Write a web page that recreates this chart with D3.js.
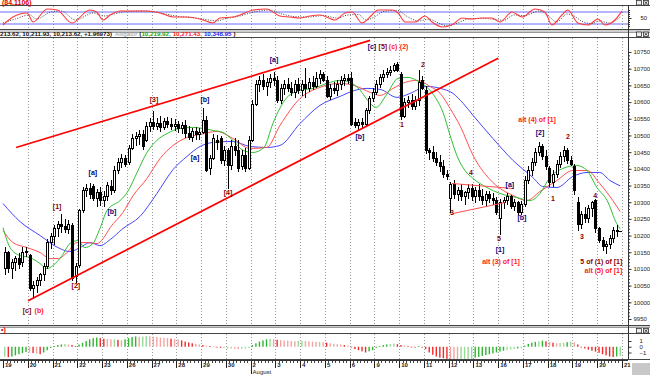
<!DOCTYPE html>
<html lang="en">
<head>
<meta charset="utf-8">
<title>Dow hourly with Alligator</title>
<script src="https://d3js.org/d3.v7.min.js"></script>
<style>
  body { margin: 0; background: #fff; }
  svg { display: block; font-family: "Liberation Sans", Arial, sans-serif; }
  .lbl { font-size: 7px; font-weight: bold; }
  .axis-txt { font-size: 6px; fill: #222; }
</style>
</head>
<body>
<script>
// ---------------- data ----------------
const dayLabels = ["19","20","21","22","23","26","27","28","29","30","2","3","4","5","6","9","10","11","12","13","16","17","18","19","20","21"];
const monthLabels = [[10, "August"]];
const barsPerDay = 7;
const priceTicks = [10750,10700,10650,10600,10550,10500,10450,10400,10350,10300,10250,10200,10150,10100,10050,10000,9950];
const oscTicks = [50];
const histTicks = [1, 0, -1];

// hourly bars: open, high, low, close
const ohlc = [
  [10101,10167,10083,10149],[10149,10155,10089,10101],[10101,10131,10071,10119],[10119,10140,10095,10131],[10131,10149,10101,10113],[10119,10167,10107,10149],[10149,10167,10137,10152],
  [10140,10146,10035,10041],[10041,10065,10011,10050],[10050,10077,10029,10065],[10065,10089,10050,10083],[10083,10119,10065,10107],[10107,10191,10101,10179],[10179,10209,10161,10197],
  [10197,10233,10173,10221],[10221,10245,10197,10233],[10233,10266,10209,10227],[10227,10251,10209,10218],[10218,10248,10206,10233],[10230,10239,10065,10071],[10077,10119,10059,10107],
  [10110,10281,10104,10275],[10275,10347,10269,10335],[10335,10353,10317,10341],[10341,10356,10311,10323],[10347,10353,10305,10311],[10311,10341,10287,10329],[10329,10347,10290,10305],
  [10305,10335,10287,10317],[10317,10359,10305,10350],[10347,10365,10323,10335],[10335,10407,10329,10395],[10395,10431,10383,10419],[10419,10443,10401,10431],[10431,10440,10404,10413],
  [10419,10470,10410,10461],[10461,10503,10455,10491],[10491,10509,10467,10497],[10497,10515,10470,10503],[10503,10515,10455,10467],[10485,10539,10479,10527],[10527,10551,10509,10539],
  [10539,10572,10515,10527],[10527,10551,10515,10536],[10536,10557,10509,10524],[10524,10551,10515,10542],[10542,10554,10521,10533],[10533,10551,10515,10527],[10527,10548,10512,10533],
  [10533,10542,10506,10521],[10521,10539,10503,10530],[10530,10545,10491,10506],[10506,10527,10485,10494],[10494,10521,10479,10512],[10512,10524,10485,10503],[10503,10521,10485,10509],
  [10509,10581,10503,10545],[10545,10557,10389,10395],[10401,10440,10380,10431],[10431,10503,10425,10491],[10485,10500,10455,10479],[10491,10497,10413,10425],[10425,10467,10407,10455],
  [10455,10461,10341,10410],[10410,10485,10395,10467],[10467,10491,10437,10455],[10455,10485,10389,10401],[10407,10455,10395,10440],[10440,10461,10389,10401],[10401,10497,10395,10485],
  [10485,10605,10479,10593],[10593,10665,10587,10653],[10653,10677,10629,10665],[10665,10683,10635,10647],[10647,10671,10617,10659],[10659,10683,10641,10671],[10671,10689,10647,10665],
  [10665,10677,10596,10605],[10605,10653,10593,10641],[10641,10665,10620,10653],[10653,10671,10629,10641],[10641,10659,10617,10629],[10629,10665,10611,10653],[10653,10671,10623,10635],
  [10635,10665,10617,10653],[10653,10701,10611,10641],[10641,10671,10629,10659],[10659,10677,10635,10647],[10647,10689,10641,10671],[10671,10695,10653,10683],[10683,10689,10659,10665],
  [10665,10677,10611,10617],[10617,10653,10605,10641],[10641,10659,10623,10635],[10635,10665,10617,10653],[10653,10677,10635,10665],[10665,10683,10647,10671],[10671,10683,10653,10665],
  [10671,10689,10527,10533],[10539,10551,10521,10530],[10530,10548,10515,10539],[10539,10551,10521,10533],[10533,10581,10527,10575],[10575,10617,10563,10611],[10611,10641,10599,10629],
  [10629,10665,10620,10653],[10653,10683,10641,10674],[10674,10695,10659,10683],[10683,10701,10671,10689],[10689,10707,10677,10695],[10695,10716,10689,10710],[10713,10719,10689,10695],
  [10683,10689,10545,10557],[10557,10611,10551,10599],[10599,10617,10581,10605],[10605,10623,10575,10587],[10587,10617,10575,10605],[10605,10695,10587,10659],[10665,10677,10635,10641],
  [10635,10647,10443,10455],[10455,10461,10425,10449],[10449,10467,10419,10431],[10431,10449,10407,10419],[10419,10440,10389,10407],[10407,10425,10371,10383],[10383,10395,10365,10377],
  [10311,10359,10269,10353],[10353,10365,10311,10323],[10323,10347,10305,10335],[10335,10353,10305,10317],[10317,10335,10293,10329],[10329,10353,10311,10341],[10341,10353,10305,10317],
  [10317,10347,10299,10335],[10335,10353,10305,10317],[10317,10341,10293,10305],[10305,10335,10287,10323],[10323,10335,10299,10311],[10311,10329,10293,10305],[10305,10317,10263,10269],
  [10251,10311,10203,10299],[10299,10317,10281,10305],[10305,10329,10293,10317],[10317,10323,10281,10287],[10287,10311,10275,10299],[10299,10305,10263,10269],[10269,10305,10263,10293],
  [10293,10377,10287,10365],[10365,10407,10353,10395],[10395,10431,10377,10419],[10419,10461,10407,10449],[10449,10479,10437,10467],[10467,10473,10425,10437],[10437,10455,10395,10407],
  [10401,10407,10347,10359],[10359,10395,10347,10383],[10383,10425,10371,10413],[10413,10449,10401,10437],[10437,10467,10419,10455],[10455,10461,10413,10425],[10425,10437,10407,10413],
  [10407,10413,10323,10335],[10299,10317,10215,10233],[10233,10275,10221,10263],[10263,10287,10239,10251],[10251,10293,10239,10281],[10281,10305,10257,10299],[10305,10311,10209,10221],
  [10221,10227,10179,10185],[10185,10197,10155,10167],[10167,10185,10146,10173],[10173,10203,10161,10191],[10191,10227,10179,10215],[10215,10233,10197,10211.65027],[10211.93,10213.62,10211.93,10213.62]
];

// Alligator lines, read as [bar, value]
const lips = [[-0.5,10224],[1.5,10164],[4.3,10140],[7.1,10134],[10,10116],[11.9,10101],[13.6,10110],[16.2,10140],[18.4,10176],[20.7,10185],[22.6,10164],[24.9,10176],[26.9,10221],[28.9,10275],[32.6,10305],[34.6,10329],[37.4,10389],[40.2,10449],[43,10485],[45.9,10506],[49.5,10521],[53.2,10524],[56,10521],[58.9,10515],[61.7,10509],[64.5,10485],[67.4,10455],[70.2,10449],[73.3,10464],[75.8,10536],[79.8,10614],[83.5,10635],[87.2,10641],[91.1,10656],[94.8,10665],[97.7,10659],[100.5,10635],[103.3,10596],[105,10584],[107.8,10620],[111.2,10671],[114,10674],[116.9,10662],[119.7,10641],[121.9,10611],[123.9,10569],[125.9,10500],[127.8,10440],[130.1,10395],[132.4,10371],[136.3,10344],[140,10326],[144.8,10314],[148.5,10305],[151.3,10326],[154.1,10374],[157.8,10401],[161.7,10410],[164.6,10395],[167.4,10344],[170.3,10305],[173,10236],[174,10219.92]];
const teeth = [[-0.5,10215],[2.3,10179],[6.3,10164],[10,10149],[12.8,10131],[15.1,10131],[17.6,10149],[20.4,10179],[23.2,10179],[26.1,10176],[27.8,10191],[29.8,10224],[33.4,10269],[36.3,10320],[40.2,10371],[43.9,10431],[47.6,10470],[51.5,10494],[55.2,10503],[60,10512],[64.5,10491],[69.3,10461],[74.1,10464],[77.8,10530],[83.5,10611],[89.1,10644],[94.8,10656],[99.5,10647],[103.3,10629],[106.1,10620],[109.8,10641],[113.2,10659],[116.6,10665],[120.2,10647],[123.1,10626],[125.9,10581],[128.8,10527],[132.4,10440],[138,10359],[143.7,10320],[147.6,10305],[151.3,10332],[156.1,10365],[160.6,10395],[164.6,10395],[168.2,10356],[171.9,10305],[174,10271.43]];
const jaw = [[-0.5,10296],[4.3,10242],[10,10200],[15.6,10161],[18.4,10152],[21.3,10164],[24.1,10179],[26.9,10170],[29.8,10188],[33.4,10221],[38.2,10257],[43,10326],[47.6,10398],[51.5,10437],[55.2,10467],[58.9,10479],[64.5,10482],[69.3,10467],[74.1,10464],[77.8,10470],[83.5,10536],[89.1,10590],[94.8,10617],[99,10635],[102.4,10641],[106.1,10638],[110.9,10614],[114.6,10626],[119.4,10647],[123.1,10641],[126.7,10626],[129.6,10596],[132.4,10560],[138,10491],[143.7,10425],[149.3,10374],[152.1,10347],[156.1,10344],[160.6,10377],[164.6,10389],[168.2,10389],[171.1,10365],[174,10348.95]];

// top oscillator (0-100) and its dotted signal line
const oscLine = [[-0.5,15],[2.3,55],[6.3,75],[8,30],[12,95],[14.8,90],[19,25],[24,90],[26,80],[27.8,40],[29.8,65],[32.6,85],[36.3,85],[40.2,85],[43.9,75],[47.6,55],[51.5,55],[55.2,45],[58.9,25],[60.8,50],[64.5,55],[66.5,65],[70.2,90],[74.1,95],[75.8,80],[77.8,60],[80.6,55],[83.5,50],[86.3,60],[89.1,65],[93.4,40],[96.2,75],[98.2,80],[101,25],[103.8,65],[105.5,90],[109.5,90],[111.2,75],[113.2,30],[116,30],[118.8,60],[120.8,30],[123.6,5],[126.4,15],[129.3,50],[132,45],[134.9,50],[137.7,50],[140,30],[143.4,80],[146.3,55],[149.9,95],[152.7,80],[154.7,15],[157.5,65],[159.2,90],[162,25],[164.9,15],[167.7,45],[169.7,15],[172.5,40],[174.5,84.1106]];
const oscSignal = [[-0.5,25],[3,45],[7,65],[9,45],[13,80],[16,85],[20,40],[25,75],[28,60],[31,70],[34,82],[40,85],[45,72],[49,58],[53,52],[57,42],[60,35],[62,45],[66,58],[71,82],[75,90],[78,72],[82,57],[86,55],[90,62],[94,50],[97,65],[100,68],[102,40],[105,60],[107,82],[111,88],[114,55],[117,35],[120,45],[122,30],[125,12],[128,25],[131,45],[135,48],[139,42],[141,38],[144,65],[147,62],[151,85],[154,55],[156,30],[159,70],[161,60],[163,35],[166,22],[168,35],[171,25],[174,55]];

// lower histogram, one value per bar
const histo = [
  -1.7,-1.8,-1.7,-1.5,-1.3,-1.1,-0.9,
  -1.0,-1.1,-1.2,-1.3,-1.0,-0.6,-0.2,
  0.1,0.3,0.4,0.5,0.4,0.3,0.1,
  0.4,0.7,1.0,1.3,1.5,1.6,1.5,
  1.4,1.35,1.3,1.3,1.2,1.15,1.3,
  1.5,1.7,1.8,1.75,1.8,1.85,1.8,
  1.75,1.7,1.6,1.55,1.5,1.4,1.35,
  1.3,1.1,0.9,0.75,0.6,0.5,0.4,
  0.3,0.2,0.1,0.05,-0.1,-0.2,-0.2,
  -0.3,-0.3,-0.35,-0.4,-0.35,-0.3,-0.2,
  0.3,0.6,0.9,1.1,1.3,1.4,1.35,
  1.2,1.15,1.1,1.05,1.0,0.95,1.0,
  1.05,1.0,0.95,0.9,0.85,0.85,0.8,
  0.7,0.6,0.5,0.45,0.4,0.3,0.2,
  -0.1,-0.4,-0.6,-0.8,-1.0,-0.8,-0.6,
  -0.2,0.1,0.3,0.4,0.5,0.55,0.45,
  0.3,0.2,0.1,0.0,-0.1,0.1,0.0,
  -0.4,-1.0,-1.4,-1.7,-1.9,-2.0,-2.1,
  -2.15,-2.2,-2.25,-2.25,-2.2,-2.15,-2.1,
  -1.9,-1.75,-1.6,-1.45,-1.3,-1.15,-1.0,
  -0.85,-0.7,-0.6,-0.5,-0.4,-0.3,-0.25,
  0.2,0.5,0.7,0.85,0.95,1.05,0.95,
  0.85,0.7,0.6,0.65,0.7,0.8,0.9,
  0.8,0.4,0.0,-0.3,-0.5,-0.7,-0.85,
  -1.05,-1.3,-1.5,-1.7,-1.8,-1.7,-1.6
];

// drawn trend lines [bar, price]
const channelTop = [[3.2,10464],[103.3,10785]];
const channelBottom = [[6.6,10005],[139.5,10731]];
const triangleTop = [[126.4,10356],[143.7,10341]];
const triangleBottom = [[126.7,10266],[141.4,10299]];

// wave labels [bar, price, text, kind]
const waveLabels = [
  [6.3,9975,"[c]","wave"],[9.7,9975,"(b)","alt"],
  [14.8,10284,"[1]","wave"],[20.1,10047,"[2]","wave"],
  [24.9,10386,"[a]","sub"],[30.3,10269,"[b]","sub"],
  [42.2,10605,"[3]","wave"],[53.8,10431,"[a]","sub"],[56.6,10605,"[b]","sub"],[63.1,10326,"[4]","wave"],
  [76.1,10725,"[a]","sub"],[100.4,10494,"[b]","sub"],
  [103.8,10764,"[c]","sub"],[106.9,10764,"[5]","wave"],[109.8,10764,"(c)","alt"],[112.9,10764,"(2)","alt"],
  [112.3,10530,"1","wave"],[118.2,10710,"2","wave"],[126.4,10266,"3","wave"],[131.8,10386,"4","wave"],[139.7,10188,"5","wave"],
  [140,10155,"[1]","sub"],[140.3,10119,"alt (3) of [1]","alt"],
  [142.8,10350,"[a]","sub"],[146.2,10251,"[b]","sub"],
  [150.5,10545,"alt (4) of [1]","alt"],[151.3,10506,"[2]","sub"],
  [155,10308,"1","wave"],[159.2,10494,"2","wave"],[163.2,10194,"3","wave"],[166.9,10317,"4","wave"]
];
const endLabels = [[174.6,10119,"5 of (1) of [1]","wave"],[174.6,10092,"alt (5) of [1]","alt"]];

// ---------------- layout ----------------
const W = 650, H = 375;
const axisX = 628;
const oscP = {top: 5, bottom: 29};
const mainP = {top: 37, bottom: 325};
const histP = {top: 333, bottom: 359};
const labelColor = {wave: "#8b0000", sub: "#00007a", alt: "#ff1a1a"};

const x = d3.scaleLinear().domain([0, ohlc.length]).range([3, 622]);
const xc = i => x(i + 0.5);
const y = d3.scaleLinear().domain([9950, 10750]).range([319, 52]);
const yOsc = d3.scaleLinear().domain([0, 100]).range([28, 8]);
const yHist = d3.scaleLinear().domain([-1, 1]).range([352.5, 341]);

const svg = d3.select("body").append("svg").attr("width", W).attr("height", H);

const defs = svg.append("defs");
function clip(id, p) {
  defs.append("clipPath").attr("id", id).append("rect")
    .attr("x", 0).attr("y", p.top).attr("width", axisX).attr("height", p.bottom - p.top);
}
clip("cOsc", oscP); clip("cMain", mainP); clip("cHist", histP);

// panel chrome
svg.append("rect").attr("x", 0).attr("y", 30).attr("width", W).attr("height", 2.5).attr("fill", "#cfcfcf");
svg.append("rect").attr("x", 0).attr("y", 326).attr("width", W).attr("height", 1.5).attr("fill", "#cfcfcf");
[5.5, 29.5, 32.5, 37.5, 325.5, 327.5, 333.5, 359.5].forEach(v => {
  svg.append("line").attr("x1", 0).attr("x2", W).attr("y1", v).attr("y2", v)
    .attr("stroke", v === 32.5 || v === 327.5 ? "#999" : "#444").attr("stroke-width", 1);
});
svg.append("rect").attr("x", 632).attr("y", 363).attr("width", 18).attr("height", 12).attr("fill", "#c8c8c8");

// little window buttons
[[636, 0], [636, 31.5], [636, 328]].forEach(([bx, by]) => {
  [0, 7].forEach(o => {
    svg.append("rect").attr("x", bx + o + 0.5).attr("y", by + 0.5).attr("width", 5).attr("height", 4.5)
      .attr("fill", "#eee").attr("stroke", "#333").attr("stroke-width", 0.8);
  });
  svg.append("path").attr("d", `M${bx + 8.5},${by + 1.5}L${bx + 11.5},${by + 4}M${bx + 11.5},${by + 1.5}L${bx + 8.5},${by + 4}`)
    .attr("stroke", "#222").attr("stroke-width", 0.8);
});

// vertical day grid
const dayIdx = d3.range(0, dayLabels.length);
[oscP, mainP, histP].forEach(p => {
  svg.append("g").selectAll("line").data(dayIdx.slice(1)).join("line")
    .attr("x1", d => Math.round(x(d * barsPerDay)) + 0.5).attr("x2", d => Math.round(x(d * barsPerDay)) + 0.5)
    .attr("y1", p.top + 1).attr("y2", p.bottom)
    .attr("stroke", "#9a9a9a").attr("stroke-dasharray", "1,2");
});

// ---------- oscillator panel ----------
const gOsc = svg.append("g").attr("clip-path", "url(#cOsc)");
[80, 20].forEach(v => {
  gOsc.append("line").attr("x1", 0).attr("x2", axisX).attr("y1", yOsc(v)).attr("y2", yOsc(v))
    .attr("stroke", "#6a6aff").attr("stroke-width", 1);
});
const oscPath = d3.line().x(d => xc(d[0])).y(d => yOsc(d[1])).curve(d3.curveMonotoneX);
gOsc.append("path").attr("d", oscPath(oscSignal)).attr("fill", "none")
  .attr("stroke", "#444").attr("stroke-width", 1).attr("stroke-dasharray", "1,1.5");
gOsc.append("path").attr("d", oscPath(oscLine)).attr("fill", "none")
  .attr("stroke", "#ff3b3b").attr("stroke-width", 1.1);
svg.append("text").attr("class", "lbl").attr("x", 2).attr("y", 4.5).attr("fill", "#e00000")
  .text(`(${oscLine[oscLine.length - 1][1]})`);

// ---------- main price panel ----------
const gMain = svg.append("g").attr("clip-path", "url(#cMain)");

// alligator
const aLine = d3.line().x(d => xc(d[0])).y(d => y(d[1])).curve(d3.curveMonotoneX);
[[jaw, "#4646ff"], [teeth, "#ff5050"], [lips, "#30c030"]].forEach(([s, c]) => {
  gMain.append("path").attr("d", aLine(s)).attr("fill", "none").attr("stroke", c).attr("stroke-width", 1);
});

// candles
const candles = gMain.append("g").attr("shape-rendering", "crispEdges");
const bars = candles.selectAll("g").data(ohlc).join("g");
bars.append("line")
  .attr("x1", (d, i) => Math.round(xc(i)) + 0.5).attr("x2", (d, i) => Math.round(xc(i)) + 0.5)
  .attr("y1", d => y(d[1])).attr("y2", d => y(d[2]))
  .attr("stroke", "#000").attr("stroke-width", 1);
bars.append("rect")
  .attr("x", (d, i) => Math.round(xc(i)) - 0.5)
  .attr("width", 2)
  .attr("y", d => y(Math.max(d[0], d[3])))
  .attr("height", d => Math.max(0.6, Math.abs(y(d[0]) - y(d[3]))))
  .attr("fill", d => d[3] >= d[0] ? "#fff" : "#000")
  .attr("stroke", "#000").attr("stroke-width", 1);

// trend lines
const tLine = d3.line().x(d => xc(d[0])).y(d => y(d[1]));
[channelTop, channelBottom].forEach(s => {
  gMain.append("path").attr("d", tLine(s)).attr("stroke", "#ff0000").attr("stroke-width", 1.7).attr("fill", "none");
});
[triangleTop, triangleBottom].forEach(s => {
  gMain.append("path").attr("d", tLine(s)).attr("stroke", "#ff4d4d").attr("stroke-width", 1).attr("fill", "none");
});

// wave labels
gMain.append("g").selectAll("text").data(waveLabels).join("text")
  .attr("class", "lbl").attr("text-anchor", "middle").attr("dominant-baseline", "middle")
  .attr("x", d => xc(d[0])).attr("y", d => y(d[1]))
  .attr("fill", d => labelColor[d[3]]).text(d => d[2]);
gMain.append("g").selectAll("text").data(endLabels).join("text")
  .attr("class", "lbl").attr("text-anchor", "end").attr("dominant-baseline", "middle")
  .attr("x", d => xc(d[0])).attr("y", d => y(d[1]))
  .attr("fill", d => labelColor[d[3]]).text(d => d[2]);

// header line of the price panel
const fmt = d3.format(",.2f");
const last = ohlc[ohlc.length - 1];
const change = last[3] - ohlc[ohlc.length - 2][3];
const head = svg.append("text").attr("y", 35.8).attr("font-size", 6.2).attr("font-weight", "bold");
head.append("tspan").attr("x", 0).attr("fill", "#111")
  .text(`${fmt(last[1]).slice(3)}, ${fmt(last[2])}, ${fmt(last[3])}, +${change.toFixed(5)})`);
head.append("tspan").attr("dx", 3).attr("fill", "#999").attr("font-weight", "normal").text("Alligator");
head.append("tspan").attr("dx", 2).attr("fill", "#111").text("(");
head.append("tspan").attr("fill", "#1aa51a").text(fmt(lips[lips.length - 1][1]) + ",");
head.append("tspan").attr("dx", 2).attr("fill", "#ff2020").text(fmt(teeth[teeth.length - 1][1]) + ",");
head.append("tspan").attr("dx", 2).attr("fill", "#2020ff").text(fmt(jaw[jaw.length - 1][1]));
head.append("tspan").attr("dx", 2).attr("fill", "#111").text(")");

// ---------- histogram panel ----------
const gHist = svg.append("g").attr("clip-path", "url(#cHist)");
gHist.selectAll("rect").data(histo).join("rect")
  .attr("x", (d, i) => xc(i) - 0.7)
  .attr("width", 1.4)
  .attr("y", d => Math.min(yHist(0), yHist(d)))
  .attr("height", d => Math.max(0.8, Math.abs(yHist(d) - yHist(0))))
  .attr("fill", (d, i) => {
    const prev = i > 0 ? histo[i - 1] : d;
    const up = d >= prev;
    const strong = Math.abs(d - prev) >= 0.1;
    if (up) return strong ? "#2fb52f" : "#9ad99a";
    return strong ? "#f02a2a" : "#f5a3a3";
  });
svg.append("text").attr("class", "lbl").attr("x", 1).attr("y", 332).attr("fill", "#e00000").text("•)");

// ---------- right axes ----------
svg.append("line").attr("x1", axisX + 0.5).attr("x2", axisX + 0.5).attr("y1", 5).attr("y2", 360)
  .attr("stroke", "#333").attr("shape-rendering", "crispEdges");

const priceAxis = d3.axisRight(y).tickValues(priceTicks).tickSize(3).tickPadding(2).tickFormat(d3.format("d"));
const gpa = svg.append("g").attr("transform", `translate(${axisX + 0.5},0)`).call(priceAxis);
svg.append("g").attr("transform", `translate(${axisX + 0.5},0)`)
  .call(d3.axisRight(y).ticks(80).tickSize(1.5).tickFormat(""));

const oscAxis = d3.axisRight(yOsc).tickValues(oscTicks).tickSize(3).tickPadding(9);
const goa = svg.append("g").attr("transform", `translate(${axisX + 0.5},0)`).call(oscAxis);
svg.append("g").attr("transform", `translate(${axisX + 0.5},0)`)
  .call(d3.axisRight(yOsc).tickValues([10, 20, 30, 40, 60, 70, 80, 90]).tickSize(1.5).tickFormat(""));

const histAxis = d3.axisRight(yHist).tickValues(histTicks).tickSize(3).tickPadding(8).tickFormat(d3.format("d"));
const gha = svg.append("g").attr("transform", `translate(${axisX + 0.5},0)`).call(histAxis);

svg.selectAll(".domain").remove();
[gpa, goa, gha].forEach(g => {
  g.selectAll("text").attr("class", "axis-txt").attr("font-family", null).attr("font-size", null);
});
svg.selectAll(".tick line").attr("stroke", "#333");

// ---------- bottom time axis ----------
const gx = svg.append("g").attr("shape-rendering", "crispEdges");
gx.append("line").attr("x1", 0).attr("x2", axisX).attr("y1", 360.5).attr("y2", 360.5).attr("stroke", "#333");
gx.selectAll(".minor").data(d3.range(ohlc.length)).join("line").attr("class", "minor")
  .attr("x1", d => Math.round(x(d)) + 0.5).attr("x2", d => Math.round(x(d)) + 0.5)
  .attr("y1", 361).attr("y2", 363).attr("stroke", "#444");
gx.selectAll(".major").data(dayIdx).join("line").attr("class", "major")
  .attr("x1", d => Math.round(x(d * barsPerDay)) + 0.5).attr("x2", d => Math.round(x(d * barsPerDay)) + 0.5)
  .attr("y1", 361).attr("y2", 368).attr("stroke", "#222");
gx.selectAll("text.day").data(dayIdx).join("text").attr("class", "day axis-txt")
  .attr("x", d => x(d * barsPerDay) + 2).attr("y", 367)
  .style("font-weight", "bold").text(d => dayLabels[d]);
monthLabels.forEach(([d, t]) => {
  gx.append("line").attr("x1", Math.round(x(d * barsPerDay)) + 0.5).attr("x2", Math.round(x(d * barsPerDay)) + 0.5)
    .attr("y1", 361).attr("y2", 374).attr("stroke", "#222");
  gx.append("text").attr("class", "axis-txt").attr("x", x(d * barsPerDay) + 2).attr("y", 373.5).text(t);
});
</script>
</body>
</html>
